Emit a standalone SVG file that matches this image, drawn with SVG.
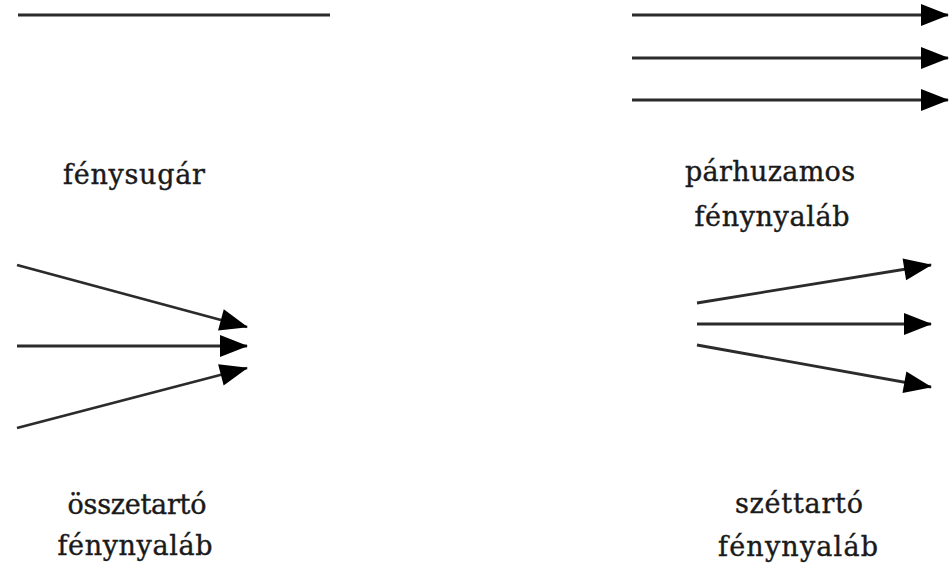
<svg xmlns="http://www.w3.org/2000/svg" width="951" height="567" viewBox="0 0 951 567">
<style>
.ray{stroke:#2b2b2b;stroke-width:2.8;fill:none}
.arr{marker-end:url(#ah)}
.lbl{font-family:"DejaVu Serif","Liberation Serif",serif;font-size:27px;fill:#1a1a1a;stroke:#1a1a1a;stroke-width:0.4;text-anchor:middle}
</style>
<defs>
<marker id="ah" markerUnits="userSpaceOnUse" markerWidth="30" markerHeight="24" refX="27" refY="11" orient="auto" overflow="visible">
<path d="M0,0 L28,11 L0,22 z" fill="#000"/>
</marker>
</defs>
<rect width="951" height="567" fill="#fff"/>
<g id="connectors">
<g id="ray-single"><line class="ray" x1="18" y1="15" x2="330" y2="15"/></g>
<g id="ray-parallel">
<line class="ray arr" x1="632" y1="15" x2="948" y2="15"/>
<line class="ray arr" x1="632" y1="58" x2="948" y2="58"/>
<line class="ray arr" x1="632" y1="100" x2="948" y2="100"/>
</g>
<g id="ray-converging">
<line class="ray arr" x1="17" y1="265" x2="247" y2="327"/>
<line class="ray arr" x1="17" y1="346" x2="247" y2="346"/>
<line class="ray arr" x1="17" y1="428" x2="247" y2="368"/>
</g>
<g id="ray-diverging">
<line class="ray arr" x1="697" y1="303" x2="931" y2="265"/>
<line class="ray arr" x1="697" y1="324" x2="931" y2="324"/>
<line class="ray arr" x1="697" y1="345" x2="931" y2="387"/>
</g>
</g>
<g id="label-fenysugar"><text class="lbl" x="134" y="184" textLength="142">fénysugár</text></g>
<g id="label-parhuzamos"><text class="lbl" x="770" y="181" textLength="170">párhuzamos</text><text class="lbl" x="772" y="226" textLength="155">fénynyaláb</text></g>
<g id="label-osszetarto"><text class="lbl" x="137" y="514" textLength="139">összetartó</text><text class="lbl" x="135" y="555" textLength="155">fénynyaláb</text></g>
<g id="label-szettarto"><text class="lbl" x="799" y="513" textLength="128">széttartó</text><text class="lbl" x="798" y="556" textLength="160">fénynyaláb</text></g>
</svg>
